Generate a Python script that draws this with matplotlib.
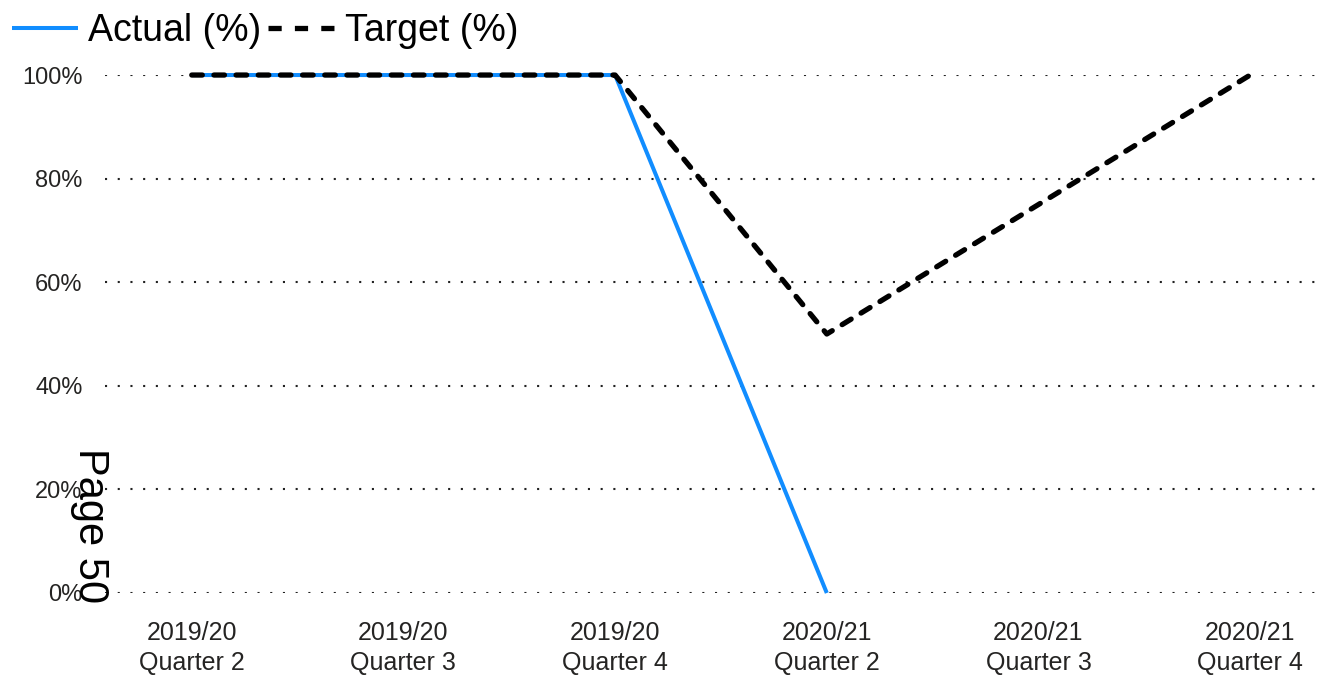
import numpy as np
import matplotlib.pyplot as plt

plt.rcParams['font.family'] = ['Liberation Sans', 'DejaVu Sans']

# data
quarters = ['2019/20\nQuarter 2', '2019/20\nQuarter 3', '2019/20\nQuarter 4',
            '2020/21\nQuarter 2', '2020/21\nQuarter 3', '2020/21\nQuarter 4']
actual = [100, 100, 100, 0, np.nan, np.nan]
target = [100, 100, 100, 50, 75, 100]
y_ticks = [0, 20, 40, 60, 80, 100]

fig = plt.figure(figsize=(13.32, 6.76), dpi=100)
ax = fig.add_axes([0.0788, 0.1228, 0.9122, 0.7662])

x = np.arange(len(quarters))
ax.plot(x, actual, color='#118DFF', lw=2.9, solid_capstyle='butt',
        label='Actual (%)', clip_on=False, zorder=3)
ax.plot(x, target, color='black', lw=3.8, dashes=(2.0, 2.2),
        dash_capstyle='round', label='Target (%)', clip_on=False, zorder=4)

ax.set_xlim(-0.41, 5.33)
ax.set_ylim(0, 100)
ax.set_yticks(y_ticks)
ax.set_yticklabels([f'{v}%' for v in y_ticks])
ax.set_xticks(x)
ax.set_xticklabels(quarters, fontsize=18, color='#252423', linespacing=1.35)
ax.tick_params(axis='y', labelsize=17, labelcolor='#252423', length=0, pad=16)
ax.tick_params(axis='x', length=0, pad=20)

ax.grid(axis='y', linestyle=(0, (1, 5.1)), color='#222222', lw=1.5)
ax.grid(axis='x', visible=False)
for s in ax.spines.values():
    s.set_visible(False)

leg = ax.legend(loc='lower left', bbox_to_anchor=(-0.0766, 1.05), ncol=2,
                frameon=False, fontsize=27, handlelength=1.76,
                handletextpad=0.27, columnspacing=0.19, borderaxespad=0,
                borderpad=0)
leg.get_lines()[1].set_dashes((2.5, 2.5))
leg.get_lines()[1].set_dash_capstyle('butt')

fig.text(0.0675, 0.222, 'Page 50', rotation=270, fontsize=30,
         ha='center', va='center')

fig.savefig('out.png', dpi=100)
